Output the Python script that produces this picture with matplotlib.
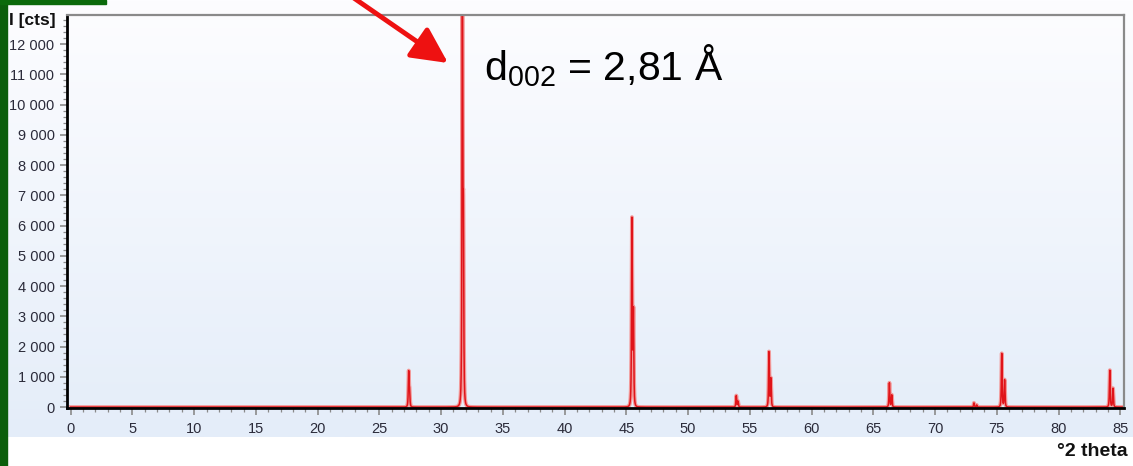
import numpy as np
import matplotlib
matplotlib.use("Agg")
import matplotlib.pyplot as plt
from matplotlib.ticker import MultipleLocator, FuncFormatter

plt.rcParams['font.family'] = ['Liberation Sans', 'DejaVu Sans']
plt.rcParams['mathtext.fontset'] = 'custom'
plt.rcParams['mathtext.rm'] = 'Liberation Sans'

# Reflexe (Kalpha1 / Kalpha2)
ka1_pos = [27.37, 31.72, 45.45, 53.90, 56.55, 66.30, 73.15, 75.40, 84.15]
ka1_int = [1130, 14500, 6160, 375, 1820, 800, 140, 1770, 1220]
ka2_pos = [27.44, 31.80, 45.57, 54.04, 56.70, 66.49, 73.37, 75.63, 84.41]
ka2_int = [480, 5300, 3050, 190, 930, 400, 70, 900, 620]

x_label = "°2 theta"
y_label = "I [cts]"
annot_text = r"d$_{\mathregular{002}}$ = 2,81 Å"

# Profil aus den Reflexen zusammensetzen
two_theta = np.arange(0, 85.2, 0.004)
counts = np.zeros_like(two_theta)
hw = 0.045
for p, h in zip(ka1_pos + ka2_pos, ka1_int + ka2_int):
    counts += h / (1 + ((two_theta - p) / hw) ** 2) ** 1.5

fig = plt.figure(figsize=(11.33, 4.66), dpi=100)

# Hintergrund mit Verlauf
bg = fig.add_axes([7 / 1133, 29 / 466, 1 - 7 / 1133, 1 - 29 / 466])
grad = np.linspace(0, 1, 256).reshape(-1, 1)
top = np.array([253, 253, 255]) / 255
bottom = np.array([228, 237, 249]) / 255
img = top + (bottom - top) * grad[:, :, None] * np.ones((1, 1, 3))
bg.imshow(img, aspect='auto', extent=[0, 1, 0, 1], origin='upper')
bg.axis('off')

# gruene Folienraender
fig.patches.append(plt.Rectangle((0, 0), 7 / 1133, 1, transform=fig.transFigure,
                                 color='#0b5e0b', zorder=5))
fig.patches.append(plt.Rectangle((0, 1 - 4 / 466), 106 / 1133, 4 / 466,
                                 transform=fig.transFigure, color='#0b6a0b', zorder=5))

ax = fig.add_axes([67 / 1133, 1 - 408 / 466, (1124 - 67) / 1133, (408 - 15) / 466])
ax.set_facecolor('none')
ax.plot(two_theta, counts, color='#f29a9a', lw=2.8, solid_joinstyle='round')
ax.plot(two_theta, counts, color='#e0141a', lw=1.1)

ax.set_xlim(-0.3, 85.3)
ax.set_ylim(-30, 12960)
ax.xaxis.set_major_locator(MultipleLocator(5))
ax.xaxis.set_minor_locator(MultipleLocator(1))
ax.yaxis.set_major_locator(MultipleLocator(1000))
ax.yaxis.set_minor_locator(MultipleLocator(200))
ax.yaxis.set_major_formatter(FuncFormatter(lambda v, p: f"{int(v):,}".replace(",", " ")))

ax.tick_params(which='both', direction='out', color='#8a8a8a', labelsize=10.5,
               labelcolor='#2b2b3a')
ax.tick_params(which='major', length=5, width=1.2)
ax.tick_params(which='minor', length=3, width=0.9)
ax.tick_params(axis='x', pad=5)
ax.tick_params(axis='y', pad=4)

ax.spines['left'].set_color('black')
ax.spines['left'].set_linewidth(2)
ax.spines['bottom'].set_color('black')
ax.spines['bottom'].set_linewidth(2)
for s in ['top', 'right']:
    ax.spines[s].set_color('#8a8a8a')
    ax.spines[s].set_linewidth(1.6)

fig.text(9 / 1133, 1 - 20 / 466, y_label, fontsize=12.5, fontweight='bold',
         va='center', ha='left', color='#111111', zorder=6)
fig.text(1128 / 1133, 1 - 452 / 466, x_label, fontsize=14, fontweight='bold',
         va='center', ha='right', color='#111111')

# Pfeil und Beschriftung
fig.text(484 / 1133, 1 - 80 / 466, annot_text, fontsize=29.5, va='baseline',
         ha='left', color='black')
ax.annotate('', xy=(448, 466 - 63), xycoords='figure pixels',
            xytext=(348, 466 + 6), textcoords='figure pixels',
            arrowprops=dict(arrowstyle='-|>,head_length=1.0,head_width=0.5',
                            lw=3.5, color='#ee1111', mutation_scale=22,
                            shrinkA=0, shrinkB=0),
            annotation_clip=False)

fig.savefig('out.png', dpi=100)
